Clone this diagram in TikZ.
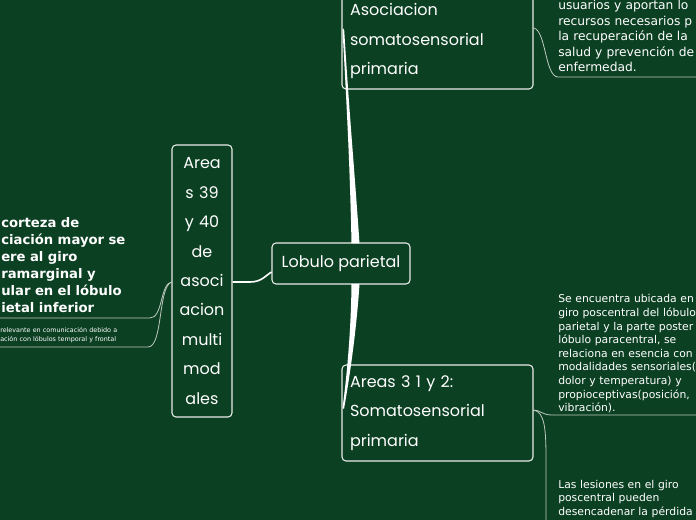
\documentclass[tikz,border=0pt]{standalone}
\usepackage{fontspec}
\setmainfont{DejaVu Sans}
\newfontfamily\hand{Poppins}
\definecolor{bg}{RGB}{12,64,35}
\definecolor{conn}{RGB}{190,202,192}
\definecolor{edge}{RGB}{232,236,232}
\begin{document}
\begin{tikzpicture}[x=0.75pt,y=-0.75pt,
  box/.style={draw=edge, line width=0.8pt, rounded corners=3pt, fill=bg, text=white,
    font=\hand\fontsize{12}{22.1}\selectfont, inner sep=0pt},
  para/.style={text=white, anchor=base west, inner sep=0pt, align=left, text width=250pt},
  thinconn/.style={draw=conn, line width=0.6pt},
]
\fill[bg] (0,0) rectangle (696,520);
\useasboundingbox (0,0) rectangle (696,520);
\begin{scope}
\clip (0,0) rectangle (696,520);

% boxes
\node[box, minimum width=103.5pt, minimum height=30.75pt] (ctr) at (341,263.5) {Lobulo parietal};
\node[box, minimum width=143.25pt, minimum height=72pt, text width=131.25pt, align=left] (top) at (437.5,41) {Asociacion\\somatosensorial\\primaria};
\node[box, minimum width=143.25pt, minimum height=72pt, text width=131.25pt, align=left] (bot) at (437.5,413) {Areas 3 1 y 2:\\Somatosensorial\\primaria};
\node[box, minimum width=45pt, minimum height=204pt, text width=44pt, align=center] (lft) at (202,281) {Area\\s 39\\y 40\\de\\asoci\\acion\\multi\\mod\\ales};

% named connector ends
\coordinate (lftR) at (lft.east |- 0,282);
\coordinate (lftL) at (lft.west |- 0,282);
\coordinate (topR) at (top.east |- 0,28);
\coordinate (botR) at (bot.east |- 0,410);
\coordinate (endA) at (0,318);
\coordinate (endB) at (0,347);
\coordinate (endC) at (696,77);
\coordinate (endD) at (696,415);
\coordinate (endE) at (546,520);

% thick main branches
\fill[white] (351.5,243.5) .. controls (350,170) and (347,110) .. (342.5,30)
  .. controls (342.8,28) and (343.6,28) .. (344.2,30)
  .. controls (349,110) and (354.5,170) .. (359.5,243.5) -- cycle;
\fill[white] (351.5,284) .. controls (351,330) and (347,375) .. (342.5,408)
  -- (344,409) .. controls (350,375) and (356.5,330) .. (359.5,284) -- cycle;

% central to left box
\draw[white, line width=1.2pt] (lftR) -- (250,282) .. controls (262,282) and (266,275) .. (ctr.west |- 0,272);

% left box to left texts
\draw[thinconn] (lftL) .. controls (160,284) and (163,318) .. (150,318) -- (endA);
\draw[thinconn] (lftL) .. controls (158,287) and (163,347) .. (148,347) -- (endB);

% right connectors
\draw[thinconn] (topR) .. controls (546,30) and (545,77) .. (558,77) -- (endC);
\draw[thinconn] (botR) .. controls (540,410) and (542,415) .. (552,415) -- (endD);
\draw[thinconn] (botR) .. controls (545,412) and (546,430) .. (546,460) -- (endE);

% texts
\node[para, font=\fontsize{9.2}{11.7}\selectfont] (tA) at (558,9.6)
  {usuarios y aportan lo\\recursos necesarios p\\la recuperación de la\\salud y prevención de\\enfermedad.};
\node[para, font=\fontsize{8.1}{10.2}\selectfont] (tB) at (558,303)
  {Se encuentra ubicada en\\giro poscentral del lóbulo\\parietal y la parte poster\\lóbulo paracentral, se\\relaciona en esencia con\\modalidades sensoriales(\\dolor y temperatura) y\\propioceptivas(posición,\\vibración).};
\node[para, font=\fontsize{8.1}{10.35}\selectfont] (tC) at (558,488)
  {Las lesiones en el giro\\poscentral pueden\\desencadenar la pérdida};
\node[para, font=\bfseries\fontsize{9.9}{12.75}\selectfont] (tD) at (1,228)
  {corteza de\\ciación mayor se\\ere al giro\\ramarginal y\\ular en el lóbulo\\ietal inferior};
\node[para, font=\fontsize{4.8}{6.4}\selectfont] (tE) at (0,333)
  {relevante en comunicación debido a\\ación con lóbulos temporal y frontal};
\end{scope}
\end{tikzpicture}
\end{document}
